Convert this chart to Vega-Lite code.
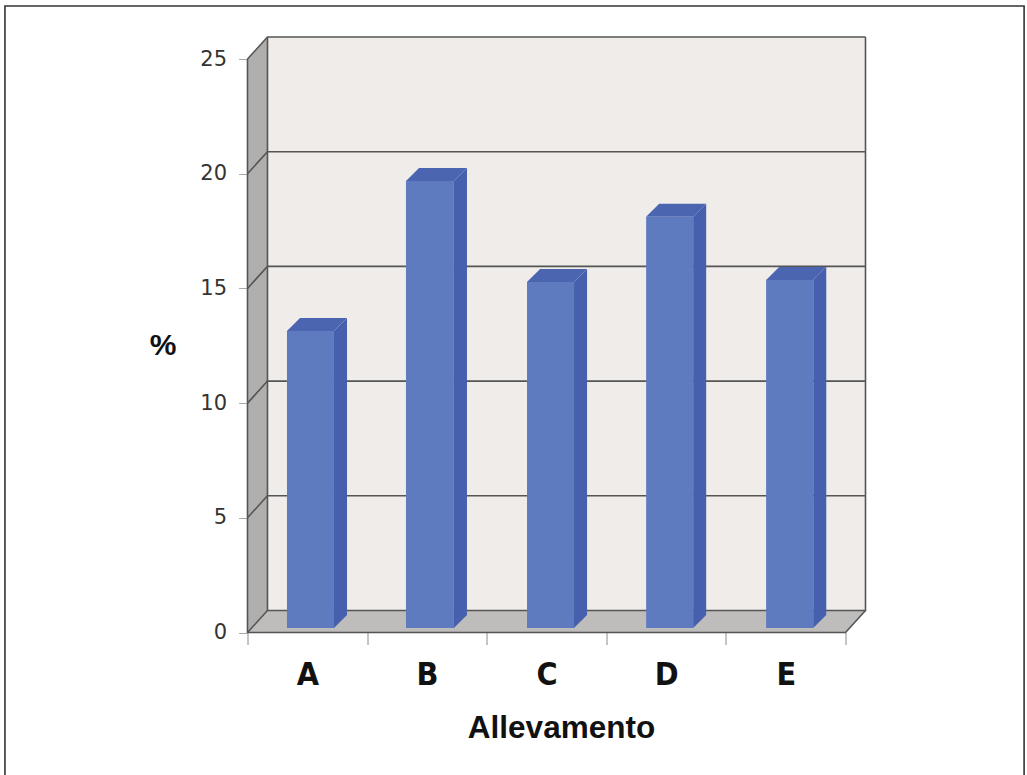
{
"$schema":"https://vega.github.io/schema/vega-lite/v6.json",
"width":618,"height":595.5,
"autosize":{"type":"none"},
"padding":{"left":247.5,"top":37,"right":161.5,"bottom":142.5},
"background":"#ffffff",
"config":{"view":{"stroke":null}},
"datasets":{
"walls":[
{"face":"left","x":0,"lo":0,"hi":25},
{"face":"left","x":0.167,"lo":0.96,"hi":25.96},
{"face":"back","x":0.167,"lo":0.96,"hi":25.96},
{"face":"back","x":5.167,"lo":0.96,"hi":25.96},
{"face":"floor","x":0,"lo":0,"hi":0},
{"face":"floor","x":0.167,"lo":0,"hi":0.96},
{"face":"floor","x":5,"lo":0,"hi":0.96},
{"face":"floor","x":5.167,"lo":0.96,"hi":0.96}
],
"lines":[
{"id":"g5","s":1,"x":0,"y":5},{"id":"g5","s":2,"x":0.167,"y":5.96},{"id":"g5","s":3,"x":5.167,"y":5.96},
{"id":"g10","s":1,"x":0,"y":10},{"id":"g10","s":2,"x":0.167,"y":10.96},{"id":"g10","s":3,"x":5.167,"y":10.96},
{"id":"g15","s":1,"x":0,"y":15},{"id":"g15","s":2,"x":0.167,"y":15.96},{"id":"g15","s":3,"x":5.167,"y":15.96},
{"id":"g20","s":1,"x":0,"y":20},{"id":"g20","s":2,"x":0.167,"y":20.96},{"id":"g20","s":3,"x":5.167,"y":20.96},
{"id":"g25","s":1,"x":0,"y":25},{"id":"g25","s":2,"x":0.167,"y":25.96},{"id":"g25","s":3,"x":5.167,"y":25.96},
{"id":"g0","s":1,"x":0,"y":0},{"id":"g0","s":2,"x":0.167,"y":0.96},{"id":"g0","s":3,"x":5.167,"y":0.96},{"id":"g0","s":4,"x":5.167,"y":25.96},
{"id":"base","s":1,"x":0,"y":25},{"id":"base","s":2,"x":0,"y":0},{"id":"base","s":3,"x":5,"y":0},{"id":"base","s":4,"x":5.167,"y":0.96},
{"id":"backleft","s":1,"x":0.167,"y":0.96},{"id":"backleft","s":2,"x":0.167,"y":25.96}
],
"frame":[
{"s":1,"x":-2.028,"y":-6.21},{"s":2,"x":-2.028,"y":27.31},{"s":3,"x":6.493,"y":27.31},{"s":4,"x":6.493,"y":-6.21}
],
"bars":[
{"name":"A","x":0.33,"x2":0.723,"base":0.2,"value":13.14},
{"name":"B","x":1.325,"x2":1.726,"base":0.2,"value":19.68},
{"name":"C","x":2.337,"x2":2.73,"base":0.2,"value":15.28},
{"name":"D","x":3.333,"x2":3.726,"base":0.2,"value":18.12},
{"name":"E","x":4.336,"x2":4.73,"base":0.2,"value":15.37}
],
"sides":[
{"name":"A","x":0.723,"lo":0.2,"hi":13.14},{"name":"A","x":0.832,"lo":0.767,"hi":13.707},
{"name":"B","x":1.726,"lo":0.2,"hi":19.68},{"name":"B","x":1.835,"lo":0.767,"hi":20.247},
{"name":"C","x":2.73,"lo":0.2,"hi":15.28},{"name":"C","x":2.839,"lo":0.767,"hi":15.847},
{"name":"D","x":3.726,"lo":0.2,"hi":18.12},{"name":"D","x":3.835,"lo":0.767,"hi":18.687},
{"name":"E","x":4.73,"lo":0.2,"hi":15.37},{"name":"E","x":4.839,"lo":0.767,"hi":15.937}
],
"tops":[
{"name":"A","x":0.33,"lo":13.14,"hi":13.14},{"name":"A","x":0.439,"lo":13.14,"hi":13.707},{"name":"A","x":0.723,"lo":13.14,"hi":13.707},{"name":"A","x":0.832,"lo":13.707,"hi":13.707},
{"name":"B","x":1.325,"lo":19.68,"hi":19.68},{"name":"B","x":1.434,"lo":19.68,"hi":20.247},{"name":"B","x":1.726,"lo":19.68,"hi":20.247},{"name":"B","x":1.835,"lo":20.247,"hi":20.247},
{"name":"C","x":2.337,"lo":15.28,"hi":15.28},{"name":"C","x":2.446,"lo":15.28,"hi":15.847},{"name":"C","x":2.73,"lo":15.28,"hi":15.847},{"name":"C","x":2.839,"lo":15.847,"hi":15.847},
{"name":"D","x":3.333,"lo":18.12,"hi":18.12},{"name":"D","x":3.442,"lo":18.12,"hi":18.687},{"name":"D","x":3.726,"lo":18.12,"hi":18.687},{"name":"D","x":3.835,"lo":18.687,"hi":18.687},
{"name":"E","x":4.336,"lo":15.37,"hi":15.37},{"name":"E","x":4.445,"lo":15.37,"hi":15.937},{"name":"E","x":4.73,"lo":15.37,"hi":15.937},{"name":"E","x":4.839,"lo":15.937,"hi":15.937}
]
},
"resolve":{"axis":{"x":"independent","y":"independent"}},
"layer":[
{
"data":{"name":"walls"},
"mark":{"type":"area","orient":"vertical"},
"encoding":{
"x":{"field":"x","type":"quantitative","scale":{"domain":[0,5.167],"nice":false,"zero":false},
"axis":{"orient":"bottom","values":[0,1,2,3,4,5],"title":null,"labels":false,"domain":false,"grid":false,"tickColor":"#8a8a8a","tickSize":12,"tickWidth":1}},
"y":{"field":"lo","type":"quantitative","stack":null,"scale":{"domain":[0,25.96],"nice":false,"zero":false},
"axis":{"orient":"left","values":[0,5,10,15,20,25],"title":"%","titleAngle":0,"titleX":-85,"titleY":317,"titleAlign":"center","titleBaseline":"alphabetic","titleFont":"Liberation Sans","titleFontWeight":"bold","titleFontSize":30,"titleColor":"#111111","domain":false,"grid":false,"labelFont":"DejaVu Sans","labelFontSize":21,"labelColor":"#333333","labelPadding":12,"tickColor":"#aaaaaa","tickSize":9,"tickWidth":1}},
"y2":{"field":"hi"},
"detail":{"field":"face"},
"color":{"field":"face","type":"nominal","legend":null,"scale":{"domain":["left","back","floor"],"range":["#B0AFAE","#EFECEA","#BFBDBB"]}}
}
},
{
"data":{"name":"lines"},
"mark":{"type":"line","color":"#555555","strokeWidth":1.6,"interpolate":"linear"},
"encoding":{
"x":{"field":"x","type":"quantitative","axis":null},
"y":{"field":"y","type":"quantitative","axis":null},
"detail":{"field":"id"},
"order":{"field":"s","type":"ordinal"}
}
},
{
"data":{"name":"frame"},
"mark":{"type":"line","color":"#333333","strokeWidth":1.6},
"encoding":{
"x":{"field":"x","type":"quantitative","axis":null},
"y":{"field":"y","type":"quantitative","axis":null},
"order":{"field":"s","type":"ordinal"}
}
},
{
"data":{"name":"sides"},
"mark":{"type":"area","orient":"vertical","color":"#4660AE"},
"encoding":{
"x":{"field":"x","type":"quantitative","axis":null},
"y":{"field":"lo","type":"quantitative","stack":null,"axis":null},
"y2":{"field":"hi"},
"detail":{"field":"name"}
}
},
{
"data":{"name":"tops"},
"mark":{"type":"area","orient":"vertical","color":"#4B65B1"},
"encoding":{
"x":{"field":"x","type":"quantitative","axis":null},
"y":{"field":"lo","type":"quantitative","stack":null,"axis":null},
"y2":{"field":"hi"},
"detail":{"field":"name"}
}
},
{
"data":{"name":"bars"},
"mark":{"type":"rect","color":"#5F7BBF"},
"encoding":{
"x":{"field":"x","type":"quantitative",
"axis":{"orient":"bottom","values":[0.5,1.5,2.5,3.5,4.5],"labelExpr":"datum.value==0.5?'A':datum.value==1.5?'B':datum.value==2.5?'C':datum.value==3.5?'D':'E'","title":"Allevamento","titleX":313.5,"titleY":105,"titleAlign":"center","titleBaseline":"alphabetic","titleFont":"Liberation Sans","titleFontWeight":"bold","titleFontSize":31.5,"titleColor":"#111111","domain":false,"grid":false,"ticks":false,"labelFont":"DejaVu Sans Condensed","labelFontWeight":"bold","labelFontSize":32,"labelColor":"#111111","labelPadding":27}},
"x2":{"field":"x2"},
"y":{"field":"base","type":"quantitative","stack":null,"axis":null},
"y2":{"field":"value"}
}
}
]
}
